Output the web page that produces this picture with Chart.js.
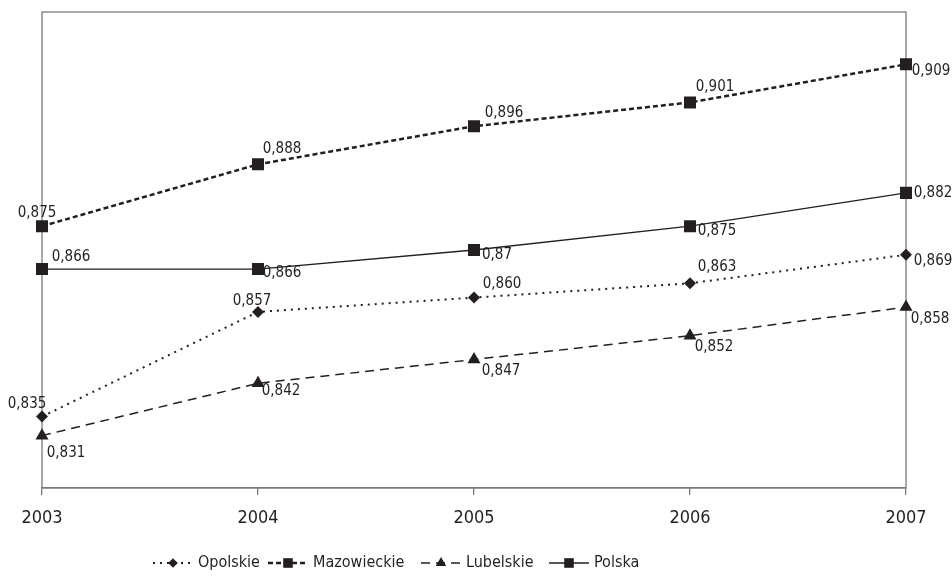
<!DOCTYPE html>
<html>
<head>
<meta charset="utf-8">
<script src="https://cdn.jsdelivr.net/npm/chart.js@4/dist/chart.umd.min.js"></script>
<style>
  html, body { margin: 0; padding: 0; background: #fff; }
</style>
</head>
<body>
<canvas id="chart" width="952" height="579"></canvas>
<script>
const years = ['2003', '2004', '2005', '2006', '2007'];
const opolskie = [0.835, 0.857, 0.860, 0.863, 0.869];
const mazowieckie = [0.875, 0.888, 0.896, 0.901, 0.909];
const lubelskie = [0.831, 0.842, 0.847, 0.852, 0.858];
const polska = [0.866, 0.866, 0.87, 0.875, 0.882];
const seriesNames = ['Opolskie', 'Mazowieckie', 'Lubelskie', 'Polska'];

const FONT = '"Liberation Sans Narrow", "Arial Narrow", "DejaVu Sans Condensed", sans-serif';
const INK = '#231f20';
const FRAME = '#7a7a7a';

// where each value label sits relative to its point (centre of text)
const labelOffsets = [
  [[-15, -12], [-6, -11], [28, -13], [27, -16], [27, 6]],
  [[-5, -13], [24, -15], [30, -13], [25, -15], [25, 7]],
  [[24, 17], [23, 8], [27, 12], [24, 11], [24, 12]],
  [[29, -12], [24, 4], [23, 5], [27, 5], [27, 0]]
];
const legendX = [153, 268, 421, 549];

const styles = [
  { dash: [2, 5], width: 2, point: 'rectRot', radius: 6 },
  { dash: [5, 3], width: 2.5, point: 'rect', radius: 8.5 },
  { dash: [9, 6], width: 1.5, point: 'triangle', radius: 7.5 },
  { dash: [], width: 1.3, point: 'rect', radius: 8.5 }
];

function fmt(v, ds) {
  if (ds === 3) return String(v).replace('.', ',');
  return v.toFixed(3).replace('.', ',');
}

function drawMarker(ctx, style, r, x, y) {
  ctx.beginPath();
  if (style === 'rect') {
    const s = r * Math.SQRT1_2;
    ctx.rect(x - s, y - s, 2 * s, 2 * s);
  } else if (style === 'rectRot') {
    ctx.moveTo(x, y - r); ctx.lineTo(x + r, y); ctx.lineTo(x, y + r); ctx.lineTo(x - r, y);
  } else {
    ctx.moveTo(x, y - r); ctx.lineTo(x + r * 0.866, y + r * 0.5); ctx.lineTo(x - r * 0.866, y + r * 0.5);
  }
  ctx.closePath();
  ctx.fill();
}

const frameAndLabels = {
  id: 'frameAndLabels',
  beforeDatasetsDraw(chart) {
    const { ctx, chartArea: a } = chart;
    ctx.save();
    ctx.strokeStyle = FRAME;
    ctx.lineWidth = 1.3;
    ctx.strokeRect(a.left, a.top, a.right - a.left, a.bottom - a.top);
    ctx.restore();
  },
  afterDatasetsDraw(chart) {
    const ctx = chart.ctx;
    ctx.save();
    ctx.font = '15px ' + FONT;
    ctx.fillStyle = INK;
    ctx.textAlign = 'center';
    ctx.textBaseline = 'middle';
    chart.data.datasets.forEach((ds, di) => {
      chart.getDatasetMeta(di).data.forEach((pt, i) => {
        const o = labelOffsets[di][i];
        ctx.fillText(fmt(ds.data[i], di), pt.x + o[0], pt.y + o[1]);
      });
    });
    ctx.restore();
  },
  afterDraw(chart) {
    const ctx = chart.ctx;
    const y = 563;
    ctx.save();
    ctx.fillStyle = INK;
    ctx.strokeStyle = INK;
    ctx.font = '16px ' + FONT;
    ctx.textBaseline = 'middle';
    seriesNames.forEach((name, i) => {
      const st = styles[i];
      const x0 = legendX[i];
      const w = 40;
      ctx.setLineDash(st.dash);
      ctx.lineWidth = st.width;
      ctx.beginPath();
      ctx.moveTo(x0, y);
      ctx.lineTo(x0 + w, y);
      ctx.stroke();
      ctx.setLineDash([]);
      drawMarker(ctx, st.point, st.radius * 0.8, x0 + w / 2, y);
      ctx.fillText(name, x0 + w + 5, y);
    });
    ctx.restore();
  }
};

const seriesData = [opolskie, mazowieckie, lubelskie, polska];

new Chart(document.getElementById('chart'), {
  type: 'line',
  data: {
    labels: years,
    datasets: seriesData.map((d, i) => ({
      label: seriesNames[i],
      data: d,
      borderColor: INK,
      backgroundColor: INK,
      borderWidth: styles[i].width,
      borderDash: styles[i].dash,
      pointStyle: styles[i].point,
      pointRadius: styles[i].radius,
      pointBackgroundColor: INK,
      pointBorderWidth: 0,
      tension: 0,
      fill: false
    }))
  },
  options: {
    responsive: false,
    animation: false,
    events: [],
    layout: { padding: { left: 42, right: 46, top: 12, bottom: 0 } },
    plugins: {
      legend: { display: false },
      tooltip: { enabled: false }
    },
    scales: {
      x: {
        offset: false,
        afterFit: (axis) => { axis.height = 91; },
        grid: { drawOnChartArea: false, drawTicks: true, tickLength: 7, color: FRAME, lineWidth: 1.3 },
        border: { color: FRAME, width: 1.3 },
        ticks: { color: INK, font: { family: FONT, size: 18 }, padding: 13, maxRotation: 0 }
      },
      y: {
        display: false,
        min: 0.82,
        max: 0.92
      }
    }
  },
  plugins: [frameAndLabels]
});
</script>
</body>
</html>
